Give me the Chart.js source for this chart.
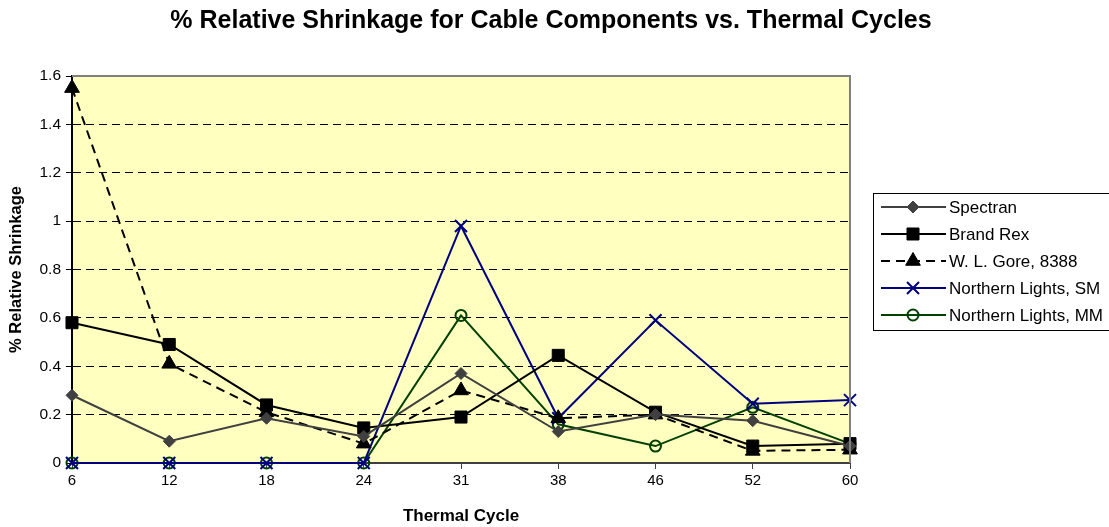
<!DOCTYPE html>
<html>
<head>
<meta charset="utf-8">
<script src="https://cdn.jsdelivr.net/npm/chart.js@4.4.1/dist/chart.umd.min.js"></script>
<style>
  html, body { margin: 0; padding: 0; background: #fff; }
  #wrap { width: 1109px; height: 527px; position: relative; }
</style>
</head>
<body>
<div id="wrap"><canvas id="chart"></canvas></div>
<script>
// Data
const chartTitle = '% Relative Shrinkage for Cable Components vs. Thermal Cycles';
const cycles = ['6', '12', '18', '24', '31', '38', '46', '52', '60'];
const spectran = [0.28, 0.09, 0.185, 0.11, 0.37, 0.13, 0.20, 0.175, 0.07];
const brandRex = [0.58, 0.49, 0.24, 0.145, 0.19, 0.445, 0.21, 0.07, 0.08];
const wlGore = [1.55, 0.41, 0.21, 0.08, 0.30, 0.185, 0.20, 0.05, 0.055];
const nlSM = [0, 0, 0, 0, 0.98, 0.185, 0.59, 0.245, 0.26];
const nlMM = [0, 0, 0, 0, 0.61, 0.16, 0.07, 0.23, 0.08];
const yTicks = [0, 0.2, 0.4, 0.6, 0.8, 1, 1.2, 1.4, 1.6];

const FONT = 'Arial, "Liberation Sans", sans-serif';

// Yellow plot area, frame and page title
const plotBg = {
    id: 'plotBg',
    beforeDraw(chart) {
        const { ctx, chartArea: a } = chart;
        ctx.save();
        ctx.fillStyle = '#ffffc0';
        ctx.fillRect(a.left, a.top, a.right - a.left, a.bottom - a.top);
        ctx.restore();
    },
    afterDatasetsDraw(chart) {
        const { ctx, chartArea: a } = chart;
        ctx.save();
        ctx.lineWidth = 2;
        ctx.strokeStyle = '#808080';
        ctx.beginPath();
        ctx.moveTo(a.left, a.top);
        ctx.lineTo(a.right, a.top);
        ctx.lineTo(a.right, a.bottom);
        ctx.stroke();
        ctx.restore();
    },
    afterDraw(chart) {
        const ctx = chart.ctx;
        ctx.save();
        ctx.fillStyle = '#000';
        ctx.font = 'bold 25px ' + FONT;
        ctx.textAlign = 'center';
        ctx.textBaseline = 'middle';
        ctx.fillText(chartTitle, 551, 21);
        ctx.restore();
    }
};

// Excel style legend box on the right
const boxLegend = {
    id: 'boxLegend',
    afterDraw(chart) {
        const ctx = chart.ctx;
        ctx.save();
        ctx.strokeStyle = '#000';
        ctx.lineWidth = 1;
        ctx.strokeRect(873.5, 193.5, 250, 137);
        chart.data.datasets.forEach((ds, i) => {
            const y = 207 + i * 27;
            ctx.save();
            ctx.strokeStyle = ds.borderColor;
            ctx.lineWidth = ds.borderWidth;
            ctx.setLineDash(ds.borderDash || []);
            ctx.beginPath();
            ctx.moveTo(881, y);
            ctx.lineTo(946, y);
            ctx.stroke();
            ctx.setLineDash([]);
            ctx.fillStyle = ds.pointBackgroundColor;
            ctx.strokeStyle = ds.pointBorderColor;
            ctx.lineWidth = ds.pointBorderWidth;
            Chart.helpers.drawPoint(ctx, {
                pointStyle: ds.pointStyle,
                radius: ds.pointRadius,
                rotation: 0,
                borderWidth: ds.pointBorderWidth
            }, 913, y);
            ctx.restore();
            ctx.fillStyle = '#000';
            ctx.font = '17px ' + FONT;
            ctx.textBaseline = 'middle';
            ctx.fillText(ds.label, 949, y + 1);
        });
        ctx.restore();
    }
};

function series(label, data, color, style, radius, extra) {
    return Object.assign({
        label: label,
        data: data,
        borderColor: color,
        borderWidth: 2,
        pointStyle: style,
        pointRadius: radius,
        pointHoverRadius: radius,
        pointBackgroundColor: color,
        pointBorderColor: color,
        pointBorderWidth: 1,
        tension: 0,
        fill: false,
        clip: false
    }, extra || {});
}

new Chart(document.getElementById('chart'), {
    type: 'line',
    data: {
        labels: cycles,
        datasets: [
            series('Spectran', spectran, '#404040', 'rectRot', 6),
            series('Brand Rex', brandRex, '#000000', 'rect', 8.5),
            series('W. L. Gore, 8388', wlGore, '#000000', 'triangle', 8.5, { borderDash: [9, 6] }),
            series('Northern Lights, SM', nlSM, '#000080', 'crossRot', 8.5, { pointBorderWidth: 2 }),
            series('Northern Lights, MM', nlMM, '#004000', 'circle', 5.5, { pointBackgroundColor: 'rgba(0,0,0,0)', pointBorderWidth: 2 })
        ]
    },
    options: {
        responsive: true,
        maintainAspectRatio: false,
        animation: false,
        layout: { padding: { left: 0, right: 259, top: 76, bottom: 0 } },
        plugins: {
            legend: { display: false },
            tooltip: { enabled: false },
            title: { display: false }
        },
        scales: {
            x: {
                offset: false,
                grid: {
                    drawOnChartArea: false,
                    drawTicks: true,
                    tickLength: 6,
                    color: '#404040'
                },
                border: { color: '#404040', width: 2 },
                ticks: {
                    color: '#000',
                    font: { family: FONT, size: 15 },
                    padding: 3,
                    maxRotation: 0
                },
                title: {
                    display: true,
                    text: 'Thermal Cycle',
                    color: '#000',
                    font: { family: FONT, size: 17, weight: 'bold' },
                    padding: { top: 0, bottom: 0 }
                },
                afterFit(scale) { scale.height = 64; }
            },
            y: {
                min: 0,
                max: 1.6,
                afterBuildTicks(scale) { scale.ticks = yTicks.map(v => ({ value: v })); },
                grid: {
                    color: '#000',
                    lineWidth: 1,
                    tickLength: 6,
                    tickColor: '#000',
                    tickBorderDash: [0],
                    drawTicks: true
                },
                border: { color: '#000', width: 2, dash: [8, 5] },
                ticks: {
                    color: '#000',
                    font: { family: FONT, size: 15.5 },
                    padding: 5,
                    callback: v => String(v)
                },
                title: {
                    display: true,
                    text: '% Relative Shrinkage',
                    color: '#000',
                    font: { family: FONT, size: 16.5, weight: 'bold' },
                    padding: { top: 7, bottom: 0 }
                },
                afterFit(scale) { scale.width = 72; }
            }
        }
    },
    plugins: [plotBg, boxLegend]
});
</script>
</body>
</html>
